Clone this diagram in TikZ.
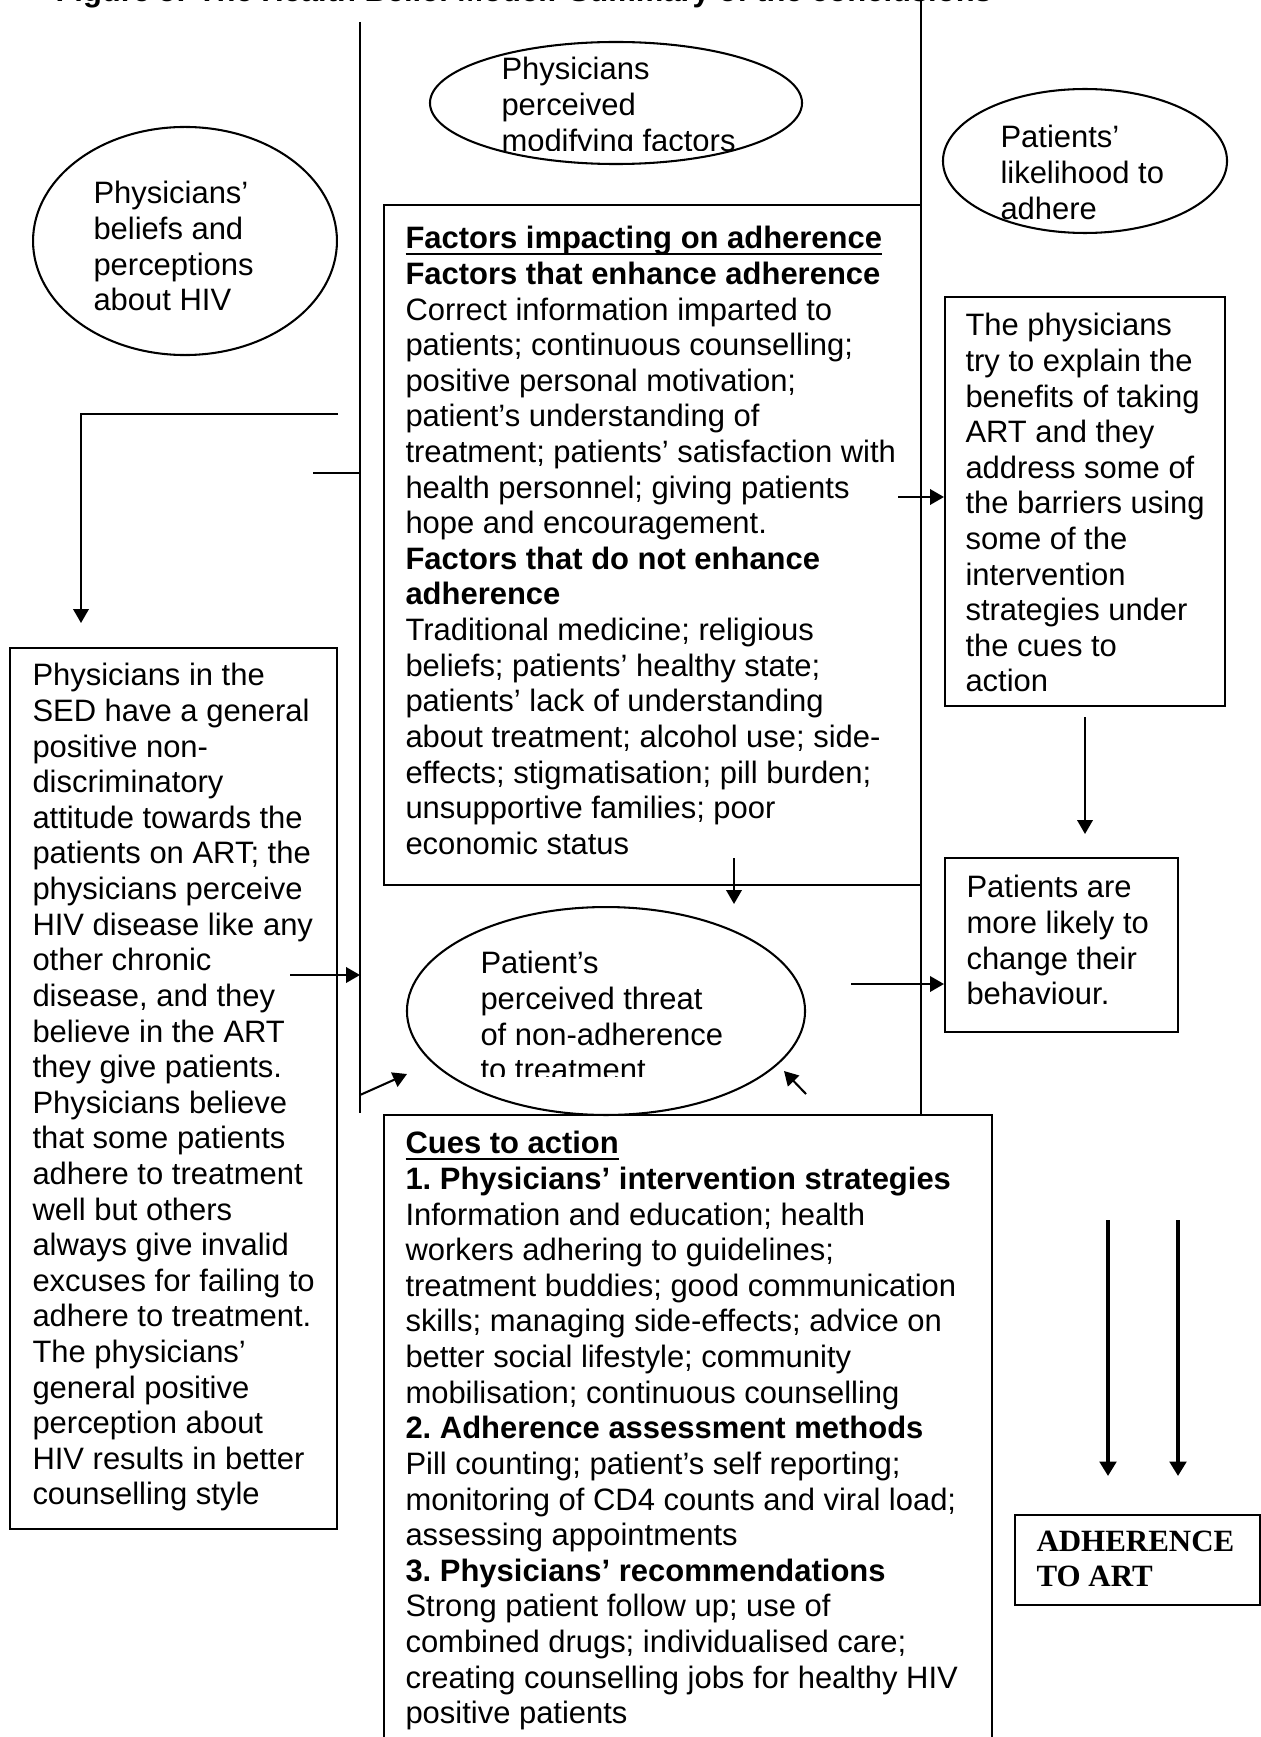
\documentclass[tikz,border=0pt]{standalone}
\usepackage{fontspec}
\setmainfont{Liberation Sans}
\newfontfamily\serifbold{Liberation Serif}
\usetikzlibrary{arrows.meta,fit,shapes.geometric}
\newcommand\ulbar[1]{\leavevmode\setbox0\hbox{#1}\rlap{\rule[-2.4pt]{\wd0}{0.9pt}}\box0}

\begin{document}
\begin{tikzpicture}[x=0.3876pt,y=-0.3876pt,line cap=butt,line join=miter,
  frame/.style={draw,line width=0.8pt,inner sep=0pt},
  oval/.style={draw,ellipse,line width=0.8pt,inner sep=0pt},
  txt/.style={anchor=north west,align=left,inner sep=0pt,font=\fontsize{12}{13.8}\selectfont\frenchspacing},
  arr/.style={line width=0.8pt,-{Triangle[length=5.4pt,width=6pt]}},
  bigarr/.style={line width=1.6pt,-{Triangle[length=5.6pt,width=6.4pt]}}]
  \useasboundingbox (0,0) rectangle (1261,1737);

  % Title, cut by the page edge.
  \begin{scope}
    \clip (0,0) rectangle (1261,1737);
    \node[anchor=base west,inner sep=0pt,font=\bfseries\fontsize{12}{13.8}\selectfont]
      (title) at (55,2) {Figure 5: The Health Belief Model: Summary of the conclusions};
  \end{scope}

  % Column separators.
  \coordinate (sepLtop) at (360,22);
  \coordinate (sepLbot) at (360,1113);
  \coordinate (sepRtop) at (921,0);
  \coordinate (sepRbot) at (921,1115);
  \draw[line width=0.8pt] (sepLtop)--(sepLbot);
  \draw[line width=0.8pt] (sepRtop)--(sepRbot);

  % Ovals.
  \node[oval,minimum width=144.2pt,minimum height=47.3pt] (modif) at (616,103) {};
  \node[oval,minimum width=117.8pt,minimum height=88.4pt] (beliefs) at (185,241) {};
  \node[oval,minimum width=110.1pt,minimum height=55.8pt] (likely) at (1085,161) {};
  \node[oval,minimum width=154.3pt,minimum height=80.6pt] (threat) at (606,1011) {};

  \begin{scope}
    \clip (430,30) rectangle (802,151);
    \node[txt] (modiftxt) at (501,57) {Physicians\\perceived\\modifying factors};
  \end{scope}
  \node[txt] (beliefstxt) at (93,181) {Physicians’\\beliefs and\\perceptions\\about HIV};
  \node[txt] (likelytxt) at (1000,125) {Patients’\\likelihood to\\adhere};
  \begin{scope}
    \clip (408,900) rectangle (805,1076);
    \node[txt] (threattxt) at (480,951) {Patient’s\\perceived threat\\of non-adherence\\to treatment};
  \end{scope}

  % Boxes.
  \node[frame,fit={(384,205) (921,885)}] (factors) {};
  \node[frame,fit={(10,648) (337,1529)}] (physbox) {};
  \node[frame,fit={(945,297) (1225,706)}] (explain) {};
  \node[frame,fit={(945,858) (1178,1032)}] (change) {};
  \node[frame,fit={(384,1115) (992,1745)}] (cues) {};
  \node[frame,fit={(1015,1515) (1260,1605)}] (adhere) {};

  \node[txt] (factorstxt) at (405,226) {%
    \ulbar{\textbf{Factors impacting on adherence}}\\
    \textbf{Factors that enhance adherence}\\
    Correct information imparted to\\
    patients; continuous counselling;\\
    positive personal motivation;\\
    patient’s understanding of\\
    treatment; patients’ satisfaction with\\
    health personnel; giving patients\\
    hope and encouragement.\\
    \textbf{Factors that do not enhance}\\
    \textbf{adherence}\\
    Traditional medicine; religious\\
    beliefs; patients’ healthy state;\\
    patients’ lack of understanding\\
    about treatment; alcohol use; side-\\
    effects; stigmatisation; pill burden;\\
    unsupportive families; poor\\
    economic status};
  \node[txt] (physboxtxt) at (32,663) {%
    Physicians in the\\
    SED have a general\\
    positive non-\\
    discriminatory\\
    attitude towards the\\
    patients on ART; the\\
    physicians perceive\\
    HIV disease like any\\
    other chronic\\
    disease, and they\\
    believe in the ART\\
    they give patients.\\
    Physicians believe\\
    that some patients\\
    adhere to treatment\\
    well but others\\
    always give invalid\\
    excuses for failing to\\
    adhere to treatment.\\
    The physicians’\\
    general positive\\
    perception about\\
    HIV results in better\\
    counselling style};
  \node[txt] (explaintxt) at (965,313) {%
    The physicians\\
    try to explain the\\
    benefits of taking\\
    ART and they\\
    address some of\\
    the barriers using\\
    some of the\\
    intervention\\
    strategies under\\
    the cues to\\
    action};
  \node[txt] (changetxt) at (966,875) {%
    Patients are\\
    more likely to\\
    change their\\
    behaviour.};
  \node[txt] (cuestxt) at (405,1131) {%
    \ulbar{\textbf{Cues to action}}\\
    \textbf{1. Physicians’ intervention strategies}\\
    Information and education; health\\
    workers adhering to guidelines;\\
    treatment buddies; good communication\\
    skills; managing side-effects; advice on\\
    better social lifestyle; community\\
    mobilisation; continuous counselling\\
    \textbf{2. Adherence assessment methods}\\
    Pill counting; patient’s self reporting;\\
    monitoring of CD4 counts and viral load;\\
    assessing appointments\\
    \textbf{3. Physicians’ recommendations}\\
    Strong patient follow up; use of\\
    combined drugs; individualised care;\\
    creating counselling jobs for healthy HIV\\
    positive patients};
  \node[txt,font=\serifbold\bfseries\fontsize{12}{13.8}\selectfont]
    (adheretxt) at (1036,1530) {ADHERENCE\\TO ART};

  % Connectors.
  \coordinate (brk) at (338,414);
  \coordinate (brkend) at (81,623);
  \draw[arr] (brk)-|(brkend);
  \coordinate (dash) at (313,473);
  \draw[line width=0.8pt] (dash)--(dash-|sepLtop);
  \coordinate (physout) at (290,975);
  \draw[arr] (physout)--(physout-|sepLtop);
  \coordinate (diagL) at (360,1095);
  \coordinate (diagLend) at (407,1074);
  \draw[arr] (diagL)--(diagLend);
  \coordinate (diagR) at (806,1094);
  \coordinate (diagRend) at (784,1071);
  \draw[arr] (diagR)--(diagRend);
  \coordinate (fdown) at (734,858);
  \coordinate (fdownend) at (734,904);
  \draw[arr] (fdown)--(fdownend);
  \coordinate (tout) at (851,984);
  \draw[arr] (tout)--(tout-|change.west);
  \coordinate (ein) at (898,497);
  \draw[arr] (ein)--(ein-|explain.west);
  \coordinate (edown) at (1085,717);
  \coordinate (edownend) at (1085,834);
  \draw[arr] (edown)--(edownend);
  \foreach \xx/\nm in {1108/a,1178/b}{
    \coordinate (dbl\nm) at (\xx,1220);
    \draw[bigarr] (dbl\nm)--++(0,256);
  }
\end{tikzpicture}
\end{document}
